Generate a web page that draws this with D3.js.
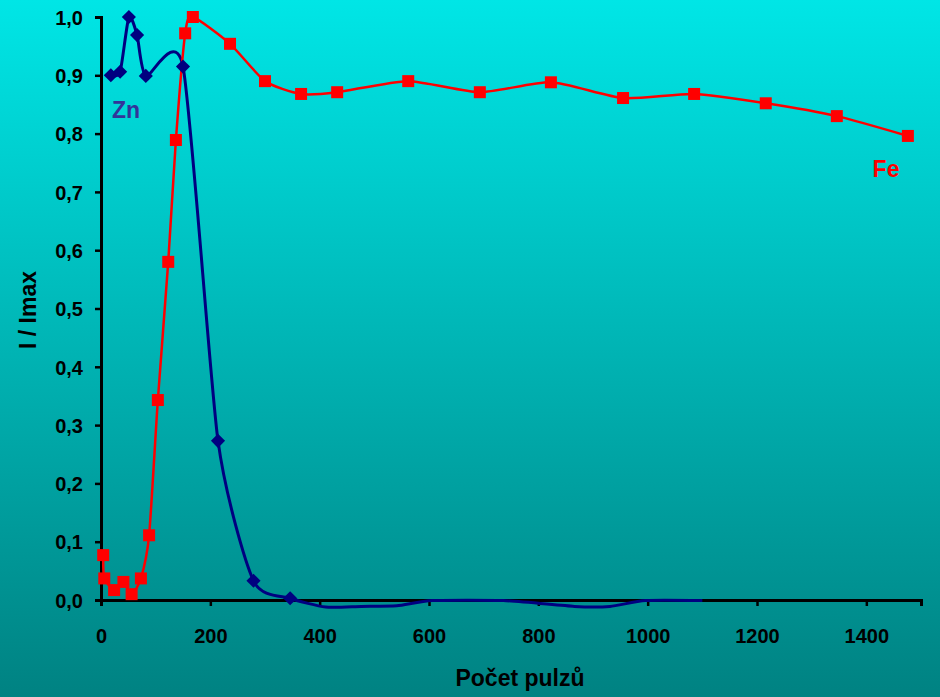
<!DOCTYPE html>
<html>
<head>
<meta charset="utf-8">
<script src="https://cdn.jsdelivr.net/npm/d3@7"></script>
<style>
  html, body { margin: 0; padding: 0; }
  svg { display: block; font-family: "Liberation Sans", Arial, sans-serif; font-weight: bold; }
</style>
</head>
<body>
<svg id="chart"></svg>
<script>
// data
var feX = [4, 6, 24, 41, 56, 73, 88, 104, 123, 137, 154, 168, 236, 300, 366, 432, 562, 693, 823, 955, 1085, 1216, 1346, 1476];
var feY = [0.077, 0.037, 0.017, 0.031, 0.010, 0.037, 0.111, 0.343, 0.580, 0.789, 0.972, 1.0, 0.954, 0.890, 0.868, 0.871, 0.890, 0.871, 0.888, 0.861, 0.868, 0.852, 0.830, 0.796];

var znX = [18, 35, 51, 66, 82, 150, 214, 279, 346, 411, 476, 541, 606, 736, 866, 931, 996, 1100];
var znY = [0.900, 0.906, 1.0, 0.969, 0.899, 0.915, 0.273, 0.033, 0.003, -0.012, -0.011, -0.010, -0.001, -0.001, -0.011, -0.011, -0.001, -0.001];

var xTicks = [0, 200, 400, 600, 800, 1000, 1200, 1400];
var yTicks = [0, 0.1, 0.2, 0.3, 0.4, 0.5, 0.6, 0.7, 0.8, 0.9, 1.0];

var width = 940, height = 697;

document.addEventListener("DOMContentLoaded", function () {
  var svg = d3.select("#chart").attr("width", width).attr("height", height);

  // background gradient
  var grad = svg.append("defs").append("linearGradient")
    .attr("id", "bg").attr("x1", 0).attr("y1", 0).attr("x2", 0).attr("y2", 1);
  grad.append("stop").attr("offset", "0%").attr("stop-color", "#00e6e6");
  grad.append("stop").attr("offset", "100%").attr("stop-color", "#008282");
  svg.append("rect").attr("width", width).attr("height", height).attr("fill", "url(#bg)");

  var x = d3.scaleLinear().domain([0, 1500]).range([101, 921]);
  var y = d3.scaleLinear().domain([0, 1]).range([600, 17]);

  // axes
  var xAxis = svg.append("g").attr("transform", "translate(0,600)")
    .call(d3.axisBottom(x).tickValues(xTicks).tickSize(6).tickPadding(23).tickFormat(d3.format("d")));
  var yAxis = svg.append("g").attr("transform", "translate(101,0)")
    .call(d3.axisLeft(y).tickValues(yTicks).tickSize(6).tickPadding(12)
      .tickFormat(function (d) { return d.toFixed(1).replace(".", ","); }));

  [xAxis, yAxis].forEach(function (g) {
    g.select(".domain").attr("stroke", "#000").attr("stroke-width", 3);
    g.selectAll(".tick line").attr("stroke", "#000").attr("stroke-width", 2.5);
    g.selectAll(".tick text").attr("fill", "#000")
      .style("font-size", "20px").style("font-weight", "bold")
      .style("font-family", "'Liberation Sans', Arial, sans-serif");
  });
  yAxis.selectAll(".tick text").attr("dy", "0.36em");
  xAxis.selectAll(".tick text").attr("dy", "0.71em");

  // smoothed line, a bit tighter than plain Catmull-Rom
  var line = d3.line()
    .x(function (d) { return x(d[0]); })
    .y(function (d) { return y(d[1]); })
    .curve(d3.curveCardinal.tension(0.35));

  var fe = feX.map(function (v, i) { return [v, feY[i]]; });
  var zn = znX.map(function (v, i) { return [v, znY[i]]; });

  svg.append("path").datum(zn).attr("d", line)
    .attr("fill", "none").attr("stroke", "#000080").attr("stroke-width", 3);

  svg.append("path").datum(fe).attr("d", line)
    .attr("fill", "none").attr("stroke", "#ff0000").attr("stroke-width", 2.5);

  // zinc markers (diamonds), only inside the plot range
  svg.append("g").selectAll("path")
    .data(zn.filter(function (d) { return d[1] > 0; }))
    .enter().append("path")
    .attr("d", d3.symbol().type(d3.symbolSquare).size(100))
    .attr("transform", function (d) { return "translate(" + x(d[0]) + "," + y(d[1]) + ") rotate(45)"; })
    .attr("fill", "#000080");

  // iron markers (squares)
  svg.append("g").selectAll("rect")
    .data(fe)
    .enter().append("rect")
    .attr("x", function (d) { return x(d[0]) - 6; })
    .attr("y", function (d) { return y(d[1]) - 6; })
    .attr("width", 12).attr("height", 12)
    .attr("fill", "#ff0000");

  // labels
  svg.append("text").attr("x", 126).attr("y", 118).attr("text-anchor", "middle")
    .style("font-size", "23px").attr("fill", "#333399").text("Zn");
  svg.append("text").attr("x", 886).attr("y", 177).attr("text-anchor", "middle")
    .style("font-size", "23px").attr("fill", "#ff0000").text("Fe");

  svg.append("text").attr("x", 520).attr("y", 686).attr("text-anchor", "middle")
    .style("font-size", "23px").attr("fill", "#000").text("Počet pulzů");
  svg.append("text").attr("transform", "translate(36,310) rotate(-90)").attr("text-anchor", "middle")
    .style("font-size", "23px").attr("fill", "#000").text("I / Imax");
});
</script>
</body>
</html>
